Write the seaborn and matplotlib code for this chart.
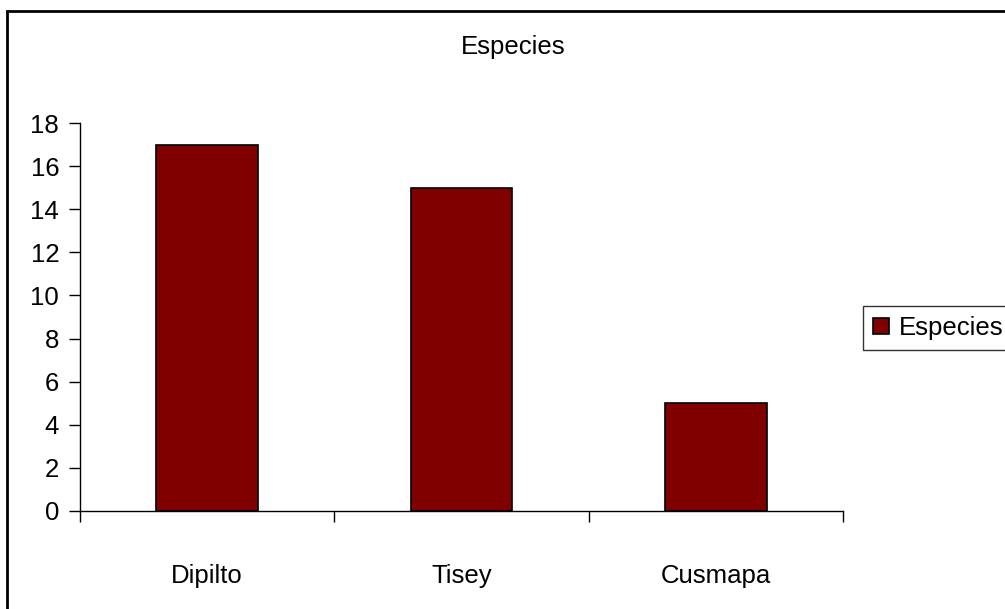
import seaborn as sns
import pandas as pd
import matplotlib.pyplot as plt
import matplotlib
import numpy as np
from matplotlib.patches import Rectangle

categories = ['Dipilto', 'Tisey', 'Cusmapa']
especies = [17, 15, 5]
series_name = 'Especies'

sns.set_style('white')
plt.rcParams['font.family'] = ['Liberation Sans', 'DejaVu Sans']
plt.rcParams['font.size'] = 18.5
plt.rcParams['text.color'] = 'black'
plt.rcParams['xtick.color'] = 'black'
plt.rcParams['ytick.color'] = 'black'

W, H = 1005, 609
fig = plt.figure(figsize=(W / 100, H / 100), dpi=100)
ax = fig.add_axes([80 / W, 1 - 511 / H, (843 - 80) / W, (511 - 123) / H])

df = pd.DataFrame({'x': categories, 'y': especies, 'serie': series_name})
sns.barplot(data=df, x='x', y='y', hue='serie', palette=['#800000'], width=0.4,
            edgecolor='black', linewidth=1.2, saturation=1, ax=ax, legend=True)

ax.set_xlim(-0.5, 2.5)
ax.set_ylim(0, 18)
ax.set_yticks(np.arange(0, 19, 2))
ax.set_xlabel('')
ax.set_ylabel('')
for s in ['top', 'right']:
    ax.spines[s].set_visible(False)
for s in ['left', 'bottom']:
    ax.spines[s].set_color('black')
    ax.spines[s].set_linewidth(1)

ax.tick_params(axis='y', which='major', direction='out', length=8, width=1,
               color='black', labelcolor='black', pad=7, left=True, labelsize=18.5)
ax.set_xticks([-0.5, 0.5, 1.5, 2.5], minor=True)
ax.tick_params(axis='x', which='minor', direction='out', length=8, width=1,
               color='black', bottom=True)
ax.tick_params(axis='x', which='major', length=0, pad=38, labelcolor='black',
               labelsize=18.5)

fig.text(513 / W, 1 - 47 / H, 'Especies', ha='center', va='center',
         fontsize=18.5, color='black')

handles, labels = ax.get_legend_handles_labels()
ax.legend(handles, labels, loc='center left', bbox_to_anchor=(863 / W, 1 - 328 / H),
          bbox_transform=fig.transFigure, frameon=True, fancybox=False,
          edgecolor='black', handlelength=0.6, handleheight=0.6,
          handletextpad=0.4, borderpad=0.4, borderaxespad=0, fontsize=18.5,
          labelcolor='black')

fig.patches.append(Rectangle((7 / W, -0.1), 1.2, 1 - 11 / H + 0.1,
                             transform=fig.transFigure, fill=False,
                             edgecolor='black', linewidth=2, zorder=0))

fig.savefig('out.png', dpi=100)
